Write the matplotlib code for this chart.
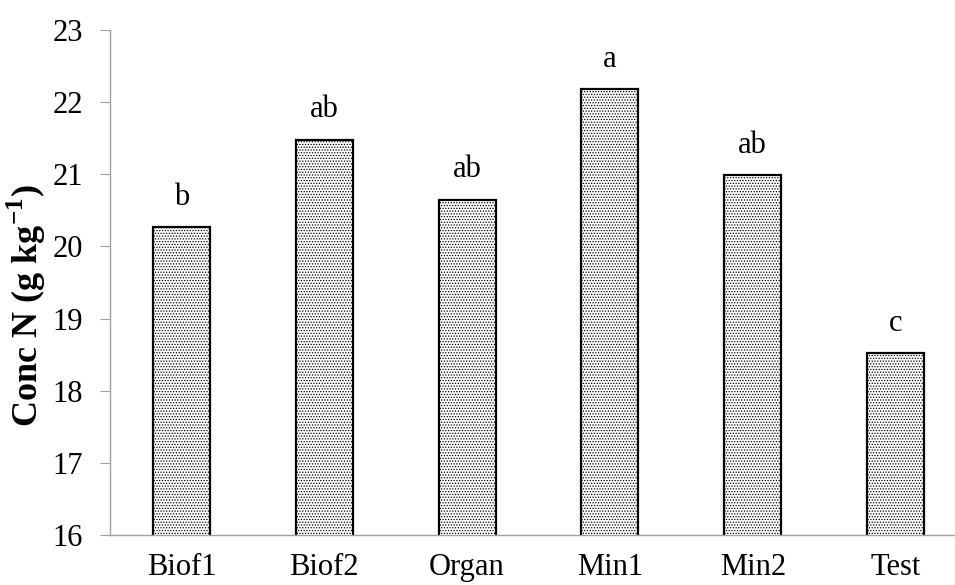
import numpy as np
import matplotlib
matplotlib.use("Agg")
import matplotlib.pyplot as plt

plt.rcParams["font.family"] = ["Liberation Serif", "DejaVu Serif"]
plt.rcParams["mathtext.fontset"] = "custom"
plt.rcParams["mathtext.rm"] = "Liberation Serif"
plt.rcParams["mathtext.bf"] = "Liberation Serif:bold"
plt.rcParams["hatch.linewidth"] = 0.6

categories = ["Biof1", "Biof2", "Organ", "Min1", "Min2", "Test"]
conc_n = [20.27, 21.48, 20.65, 22.18, 20.99, 18.52]
letters = ["b", "ab", "ab", "a", "ab", "c"]
y_ticks = [16, 17, 18, 19, 20, 21, 22, 23]

fig = plt.figure(figsize=(9.55, 5.85), dpi=100)
ax = fig.add_axes([110 / 955, 50 / 585, 857 / 955, 505 / 585])

x = np.arange(len(categories))
bars = ax.bar(x, conc_n, width=0.40, color="white",
              edgecolor="black", linewidth=1.6, hatch="......")

for xi, v, lab in zip(x, conc_n, letters):
    ax.annotate(lab, (xi, v), xytext=(0, 16), textcoords="offset points",
                ha="center", va="baseline", fontsize=22)

ax.set_xlim(-0.5, len(categories) - 0.5)
ax.set_ylim(16, 23)
ax.set_yticks(y_ticks)
ax.set_xticks(x)
ax.set_xticklabels(categories)
ax.tick_params(axis="y", direction="out", length=7.5, width=0.8,
               color="#a0a0a0", labelsize=22, pad=12)
ax.tick_params(axis="x", length=0, labelsize=22, pad=13)
for s in ["top", "right"]:
    ax.spines[s].set_visible(False)
for s in ["left", "bottom"]:
    ax.spines[s].set_color("#a0a0a0")
    ax.spines[s].set_linewidth(1.0)

ax.set_ylabel(r"Conc N (g kg$^{\mathbf{-1}}$)", fontsize=26, fontweight="bold")
ax.yaxis.set_label_coords(-0.072, 0.455)

fig.savefig("out.png", dpi=100)
